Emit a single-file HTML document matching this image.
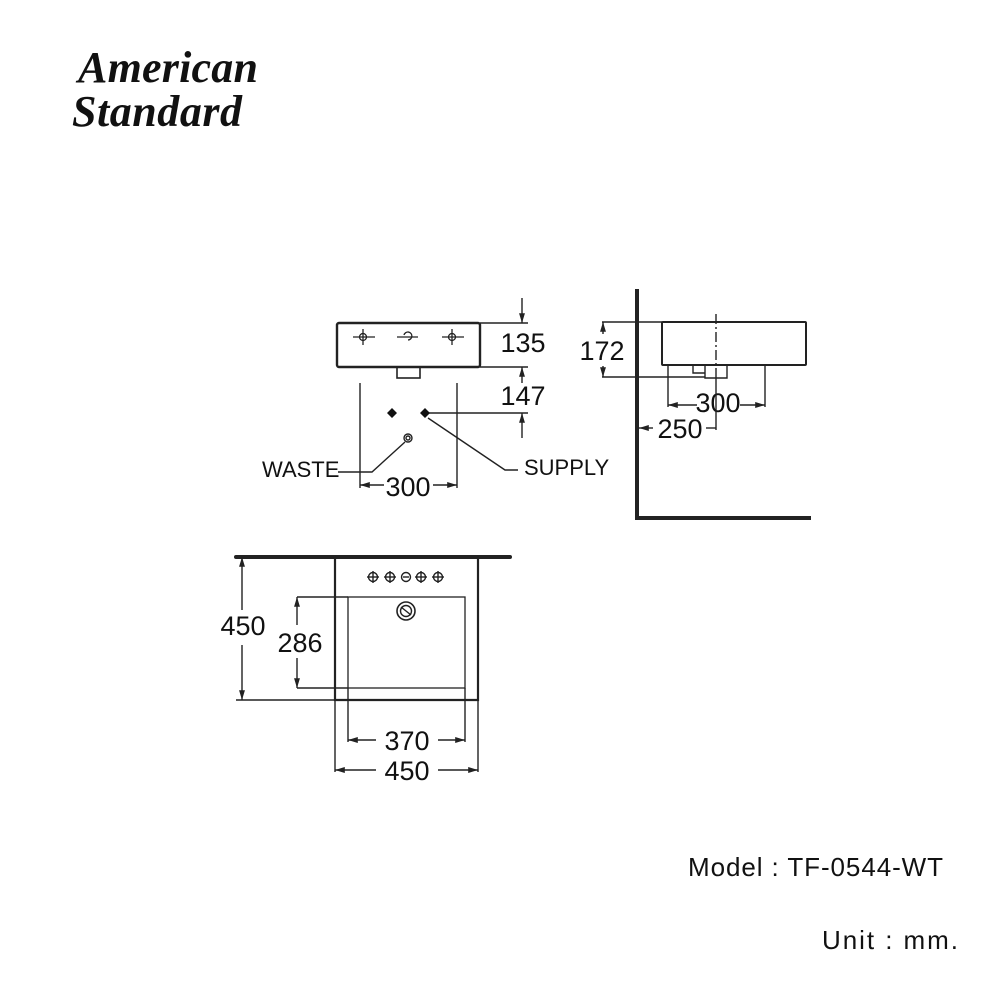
<!DOCTYPE html>
<html><head><meta charset="utf-8"><style>
html,body{margin:0;padding:0;background:#fff;}
svg{display:block}
</style></head><body>
<svg width="1000" height="1000" viewBox="0 0 1000 1000" xmlns="http://www.w3.org/2000/svg" font-family="Liberation Sans, sans-serif">
<defs>
<marker id="a" viewBox="0 0 10 10" refX="10" refY="5" markerWidth="7" markerHeight="7" orient="auto-start-reverse"><path d="M0,2 L10,5 L0,8 z" fill="#222"/></marker>
</defs>
<!-- logo -->
<text x="78" y="82" font-family="Liberation Serif, serif" font-style="italic" font-weight="bold" font-size="44" fill="#111" textLength="180">American</text>
<text x="72" y="126" font-family="Liberation Serif, serif" font-style="italic" font-weight="bold" font-size="44" fill="#111" textLength="170">Standard</text>

<g stroke="#222" fill="none" stroke-width="1.4">
<!-- front view -->
<rect x="337" y="323" width="143" height="44" rx="2" stroke-width="2.4"/>
<rect x="397" y="367" width="23" height="11" stroke-width="1.6"/>
<g stroke-width="1.3">
<line x1="353" y1="337" x2="375" y2="337"/><line x1="363" y1="329" x2="363" y2="345"/><circle cx="363" cy="337" r="3.5"/>
<line x1="397" y1="337" x2="418" y2="337"/><path d="M404,335 a4,4 0 1 1 4,5"/>
<line x1="442" y1="337" x2="464" y2="337"/><line x1="452" y1="329" x2="452" y2="345"/><circle cx="452" cy="337" r="3.5"/>
</g>
<line x1="480" y1="323" x2="528" y2="323"/>
<line x1="480" y1="367" x2="528" y2="367"/>
<line x1="522" y1="298" x2="522" y2="323" marker-end="url(#a)"/>
<line x1="522" y1="383" x2="522" y2="367" marker-end="url(#a)"/>
<line x1="428" y1="413" x2="528" y2="413"/>
<line x1="522" y1="438" x2="522" y2="413" marker-end="url(#a)"/>
<line x1="360" y1="383" x2="360" y2="488"/>
<line x1="457" y1="383" x2="457" y2="488"/>
<line x1="360" y1="485" x2="384" y2="485" marker-start="url(#a)"/>
<line x1="433" y1="485" x2="457" y2="485" marker-end="url(#a)"/>
<circle cx="408" cy="438" r="4"/><circle cx="408" cy="438" r="2"/>
<polyline points="405,442 372,472 338,472"/>
<polyline points="428,418 505,470 518,470"/>
</g>
<path d="M392,408 l5,5 l-5,5 l-5,-5z M425,408 l5,5 l-5,5 l-5,-5z" fill="#111"/>
<g font-size="27" fill="#111" text-anchor="middle">
<text x="523" y="352">135</text>
<text x="523" y="405">147</text>
<text x="408" y="496">300</text>
<text x="602" y="360">172</text>
<text x="718" y="412">300</text>
<text x="680" y="438">250</text>
<text x="243" y="635">450</text>
<text x="300" y="652">286</text>
<text x="407" y="750">370</text>
<text x="407" y="780">450</text>
</g>
<g font-size="22" fill="#111">
<text x="262" y="477">WASTE</text>
<text x="524" y="475">SUPPLY</text>
</g>

<g stroke="#222" fill="none" stroke-width="1.4">
<!-- side view -->
<line x1="637" y1="289" x2="637" y2="520" stroke-width="4"/>
<line x1="635" y1="518" x2="811" y2="518" stroke-width="4"/>
<rect x="662" y="322" width="144" height="43" rx="1" stroke-width="2"/>
<line x1="716" y1="314" x2="716" y2="380" stroke-dasharray="10,3,2,3"/>
<path d="M693,365 v8 h12 M705,365 v13 h22 v-13"/>
<line x1="602" y1="322" x2="662" y2="322"/>
<line x1="602" y1="377" x2="705" y2="377"/>
<line x1="603" y1="334" x2="603" y2="322" marker-end="url(#a)"/>
<line x1="603" y1="366" x2="603" y2="377" marker-end="url(#a)"/>
<line x1="668" y1="365" x2="668" y2="407"/>
<line x1="765" y1="365" x2="765" y2="407"/>
<line x1="668" y1="405" x2="697" y2="405" marker-start="url(#a)"/>
<line x1="740" y1="405" x2="765" y2="405" marker-end="url(#a)"/>
<line x1="716" y1="378" x2="716" y2="430"/>
<line x1="639" y1="428" x2="653" y2="428" marker-start="url(#a)"/>
<line x1="706" y1="428" x2="716" y2="428"/>

<!-- top view -->
<line x1="236" y1="557" x2="510" y2="557" stroke-width="4" stroke-linecap="round"/>
<path d="M335,557 V700 H478 V557" stroke-width="2.2"/>
<rect x="348" y="597" width="117" height="91" stroke-width="1.3"/>
<g stroke-width="1.4">
<circle cx="373" cy="577" r="4.5"/><line x1="367" y1="577" x2="379" y2="577"/><line x1="373" y1="571" x2="373" y2="583"/>
<circle cx="390" cy="577" r="4.5"/><line x1="384" y1="577" x2="396" y2="577"/><line x1="390" y1="571" x2="390" y2="583"/>
<circle cx="406" cy="577" r="4.5"/><line x1="403" y1="577" x2="409" y2="577"/>
<circle cx="421" cy="577" r="4.5"/><line x1="415" y1="577" x2="427" y2="577"/><line x1="421" y1="571" x2="421" y2="583"/>
<circle cx="438" cy="577" r="4.5"/><line x1="432" y1="577" x2="444" y2="577"/><line x1="438" y1="571" x2="438" y2="583"/>
</g>
<circle cx="406" cy="611" r="9" stroke-width="1.6"/><circle cx="406" cy="611" r="5.5"/><line x1="401" y1="607" x2="411" y2="615"/>
<line x1="236" y1="700" x2="335" y2="700"/>
<line x1="242" y1="610" x2="242" y2="557" marker-end="url(#a)"/>
<line x1="242" y1="645" x2="242" y2="700" marker-end="url(#a)"/>
<line x1="297" y1="597" x2="348" y2="597"/>
<line x1="297" y1="688" x2="348" y2="688"/>
<line x1="297" y1="625" x2="297" y2="597" marker-end="url(#a)"/>
<line x1="297" y1="658" x2="297" y2="688" marker-end="url(#a)"/>
<line x1="348" y1="688" x2="348" y2="742"/>
<line x1="465" y1="688" x2="465" y2="742"/>
<line x1="348" y1="740" x2="376" y2="740" marker-start="url(#a)"/>
<line x1="438" y1="740" x2="465" y2="740" marker-end="url(#a)"/>
<line x1="335" y1="700" x2="335" y2="772"/>
<line x1="478" y1="700" x2="478" y2="772"/>
<line x1="335" y1="770" x2="376" y2="770" marker-start="url(#a)"/>
<line x1="438" y1="770" x2="478" y2="770" marker-end="url(#a)"/>
</g>

<g font-size="26" fill="#111">
<text x="688" y="876" textLength="255">Model : TF-0544-WT</text>
<text x="822" y="949" textLength="136">Unit : mm.</text>
</g>
</svg>
</body></html>
